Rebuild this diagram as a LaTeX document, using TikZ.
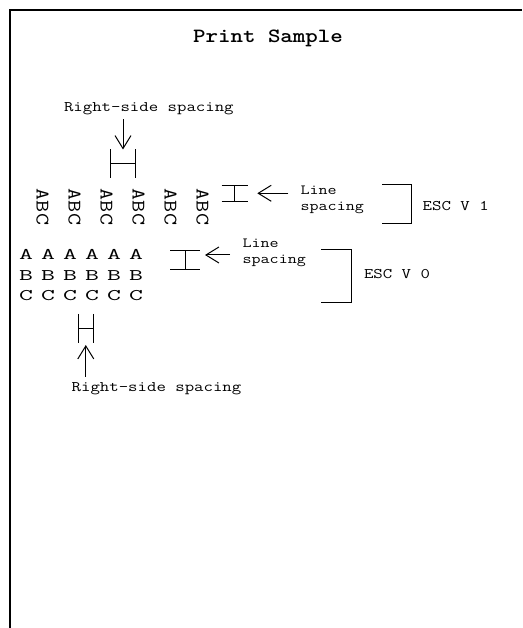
\documentclass[tikz,border=0pt]{standalone}
\usepackage{fontspec}
\usetikzlibrary{arrows.meta}
% vertically scaled text
\newcommand\sq[2]{\scalebox{1}[#1]{#2}}
\tikzset{
  mono/.style={font=\ttfamily\fontsize{#1}{#1}\selectfont, inner sep=0pt, outer sep=0pt},
  lbl/.style={mono=18.3, anchor=base west},
  small/.style={mono=17.5, anchor=base west},
  rot/.style={mono=23.4, rotate=-90, anchor=center},
  grid/.style={mono=27, anchor=base},
  rule/.style={line width=1pt},
  pointer/.style={line width=1pt, -{Straight Barb[length=13pt,width=16pt,line width=1pt]}},
}
\begin{document}
\begin{tikzpicture}[x=1pt,y=1pt]
\useasboundingbox (0,0) rectangle (522,628);
% page frame (top and left edges)
\draw[line width=1.2pt] (10,0) -- (10,618) -- (522,618);

% heading
\node[inner sep=0pt, anchor=base, font=\ttfamily\bfseries\fontsize{23.8}{23.8}\selectfont] (title) at (268,585.3) {\sq{0.85}{Print Sample}};

% ---- ESC V 1 : rotated characters ----
\node[lbl] (rsTop) at (64,516.3) {\sq{0.8}{Right-side spacing}};
\coordinate (rsTopTail) at (123,508.7);
\coordinate (rsTopTip) at (123,478.5);
\draw[pointer] (rsTopTail) -- (rsTopTip);
% right-side spacing mark
\coordinate (hA1) at (110,478.5);
\coordinate (hA2) at (110,449.7);
\coordinate (hB1) at (135.7,478.5);
\coordinate (hB2) at (135.7,449.7);
\draw[rule] (hA1) -- (hA2) (hB1) -- (hB2);
\draw[rule] (110,464) -- (135.7,464);

\foreach \i in {0,...,5}{
  \node[rot] (col\i) at (42.5+32*\i,421) {\sq{0.82}{ABC}};
}

% line spacing mark
\draw[rule] (221.5,442.7) -- (248.3,442.7) (221.5,426.7) -- (248.3,426.7) (234.5,442.7) -- (234.5,426.7);
\coordinate (lsTopTail) at (288.3,434.7);
\coordinate (lsTopTip) at (257.3,434.7);
\draw[pointer] (lsTopTail) -- (lsTopTip);
\node[small] (lsTop1) at (300.7,433) {\sq{0.8}{Line}};
\node[small] (lsTop2) at (300.7,417.3) {\sq{0.8}{spacing}};
\draw[rule] (382.3,443.7) -- (411,443.7) -- (411,404) -- (382.3,404);
\node[lbl] (escOne) at (422.7,417.5) {\sq{0.8}{ESC V 1}};

% ---- ESC V 0 : upright characters ----
\foreach \i in {0,...,5}{
  \node[grid] (ga\i) at (26+22*\i,368) {\sq{0.6}{A}};
  \node[grid] (gb\i) at (26+22*\i,347.5) {\sq{0.6}{B}};
  \node[grid] (gc\i) at (26+22*\i,327) {\sq{0.6}{C}};
}
\draw[rule] (170,377.5) -- (200,377.5) (170,358.5) -- (200,358.5) (185,377.5) -- (185,358.5);
\coordinate (lsLowTail) at (230,373);
\coordinate (lsLowTip) at (205,373);
\draw[pointer] (lsLowTail) -- (lsLowTip);
\node[small] (lsLow1) at (242.7,380) {\sq{0.8}{Line}};
\node[small] (lsLow2) at (242.7,364.5) {\sq{0.8}{spacing}};
\draw[rule] (321,378) -- (351.7,378) -- (351.7,325.3) -- (321,325.3);
\node[lbl] (escZero) at (364,349) {\sq{0.8}{ESC V 0}};

% right-side spacing mark below the grid
\draw[rule] (78.3,314) -- (78.3,285.3) (93.3,314) -- (93.3,285.3) (78.3,299.7) -- (93.3,299.7);
\coordinate (rsLowTail) at (85.8,251.3);
\coordinate (rsLowTip) at (85.8,283);
\draw[pointer] (rsLowTail) -- (rsLowTip);
\node[lbl] (rsLow) at (71.7,236.3) {\sq{0.8}{Right-side spacing}};
\end{tikzpicture}
\end{document}
